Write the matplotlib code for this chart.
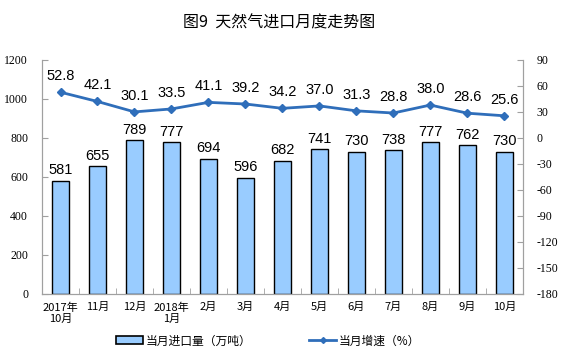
import matplotlib
matplotlib.use("Agg")
import matplotlib.pyplot as plt
from matplotlib.lines import Line2D
from matplotlib.patches import Patch

categories = ["2017年\n10月", "11月", "12月", "2018年\n1月", "2月", "3月", "4月",
              "5月", "6月", "7月", "8月", "9月", "10月"]
imports = [581, 655, 789, 777, 694, 596, 682, 741, 730, 738, 777, 762, 730]
growth = [52.8, 42.1, 30.1, 33.5, 41.1, 39.2, 34.2, 37.0, 31.3, 28.8, 38.0, 28.6, 25.6]
left_ticks = [0, 200, 400, 600, 800, 1000, 1200]
right_ticks = [-180, -150, -120, -90, -60, -30, 0, 30, 60, 90]

cjk = ["Noto Sans CJK SC", "DejaVu Sans"]
serif = ["Liberation Serif", "DejaVu Serif"]
sans = ["Liberation Sans", "DejaVu Sans"]

fig = plt.figure(figsize=(5.61, 3.57), dpi=100)
ax = fig.add_axes([0.0749, 0.1765, 0.857, 0.6555])
ax2 = ax.twinx()

x = list(range(len(categories)))
ax.bar(x, imports, width=0.45, color="#99CCFF", edgecolor="black", linewidth=1.0, zorder=2)
for xi, v in zip(x, imports):
    ax.text(xi, v + 18, str(v), ha="center", va="bottom", fontsize=10.5, family=sans)

ax2.plot(x, growth, color="#2F6EBA", linewidth=2.0, marker="D", markersize=4, zorder=3)
for xi, v in zip(x, growth):
    ax2.text(xi, v + 10.5, f"{v:.1f}", ha="center", va="bottom", fontsize=10.5, family=sans)

ax.set_xlim(-0.5, len(categories) - 0.5)
ax.set_ylim(0, 1200)
ax2.set_ylim(-180, 90)
ax.set_yticks(left_ticks)
ax2.set_yticks(right_ticks)
ax.set_yticklabels([str(t) for t in left_ticks], family=serif, fontsize=8.5)
ax2.set_yticklabels([str(t) for t in right_ticks], family=serif, fontsize=8.5)

ax.set_xticks(x)
ax.set_xticklabels(categories, family=["SimSun", "Noto Sans CJK SC", "DejaVu Sans"], fontsize=8)
ax.set_xticks([i + 0.5 for i in range(-1, len(categories))], minor=True)
ax.tick_params(axis="x", which="major", length=0, pad=6)
ax.tick_params(axis="x", which="minor", length=4, color="#a0a0a0", direction="in")
ax.tick_params(axis="y", length=4, color="#a0a0a0", direction="in", pad=10)
ax2.tick_params(axis="y", length=4, color="#a0a0a0", direction="in", pad=10)

for a in (ax, ax2):
    a.spines["top"].set_visible(False)
    for s in ("left", "right", "bottom"):
        a.spines[s].set_color("#a0a0a0")

fig.text(0.497, 0.935, "图9  天然气进口月度走势图", ha="center", va="center",
         fontsize=11.5, family=cjk)

handles = [Patch(facecolor="#99CCFF", edgecolor="black", linewidth=1.2,
                 label="当月进口量（万吨）"),
           Line2D([0], [0], color="#2F6EBA", linewidth=2, marker="D", markersize=3,
                  label="当月增速（%）")]
fig.legend(handles=handles, loc="center", bbox_to_anchor=(0.478, 0.045), ncol=2,
           frameon=False, prop={"family": cjk, "size": 8.5}, columnspacing=4.9,
           handlelength=2.3, handletextpad=0.2)

fig.savefig("out.png", dpi=100)
